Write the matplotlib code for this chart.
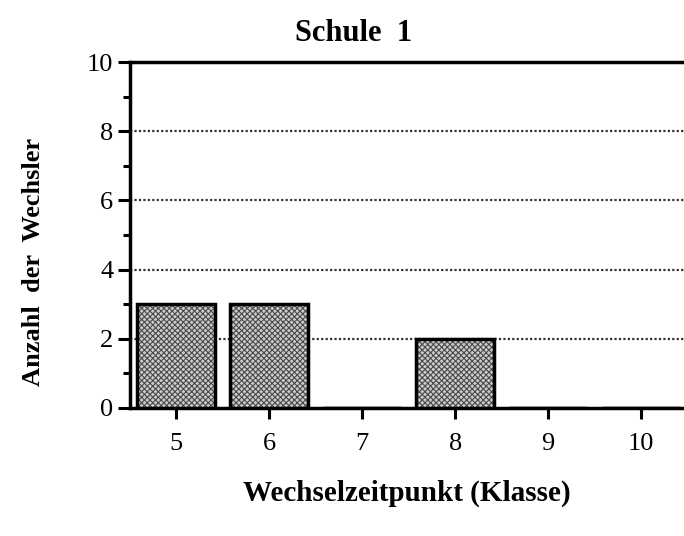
import matplotlib.pyplot as plt
import numpy as np

klassen = [5, 6, 7, 8, 9, 10]
wechsler = [3, 3, 0, 2, 0, 0]
y_ticks = [0, 2, 4, 6, 8, 10]

plt.rcParams['font.family'] = ['Liberation Serif', 'DejaVu Serif']
plt.rcParams['hatch.linewidth'] = 0.8

fig = plt.figure(figsize=(6.84, 5.36), dpi=100)
ax = fig.add_axes([0.19, 0.239, 0.81, 0.645])

# dotted fill first, then the black outline on top
ax.bar(klassen, wechsler, width=0.84, facecolor='#cccccc', edgecolor='#4a4a4a',
       hatch='xxxxxx', linewidth=0, zorder=3)
ax.bar(klassen, wechsler, width=0.84, facecolor='none', edgecolor='black',
       linewidth=2.5, zorder=4)

ax.set_xlim(4.505, 10.46)
ax.set_ylim(0, 10)
ax.set_xticks(klassen)
ax.set_yticks(y_ticks)
ax.set_yticks([1, 3, 5, 7, 9], minor=True)

for y in y_ticks[1:-1]:
    ax.axhline(y, color='#333333', linestyle=(0, (1, 1)), linewidth=1.6, zorder=1)

for side in ['top', 'left', 'bottom']:
    ax.spines[side].set_linewidth(2.5)
ax.spines['right'].set_visible(False)

ax.tick_params(axis='y', which='major', length=9, width=2.2, labelsize=19, pad=3)
ax.tick_params(axis='y', which='minor', length=5, width=2.2)
ax.tick_params(axis='x', length=8, width=2.2, labelsize=19, pad=10)

ax.set_title('Schule  1', fontsize=22, fontweight='bold', pad=15, x=0.403)
ax.set_ylabel('Anzahl  der  Wechsler', fontsize=19, fontweight='bold')
ax.yaxis.set_label_coords(-0.153, 0.422)
ax.set_xlabel('Wechselzeitpunkt (Klasse)', fontsize=21, fontweight='bold', labelpad=18)

fig.savefig('out.png', dpi=100)
